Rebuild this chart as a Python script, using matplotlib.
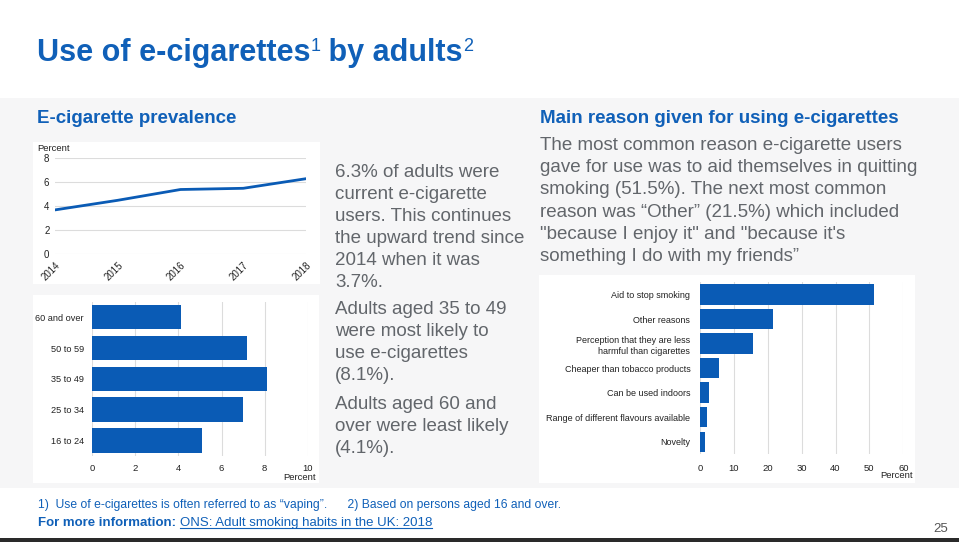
import matplotlib
matplotlib.use("Agg")
import matplotlib.pyplot as plt
from matplotlib.patches import Rectangle
from matplotlib.lines import Line2D

# data
years = [2014, 2015, 2016, 2017, 2018]
prevalence = [3.7, 4.5, 5.4, 5.5, 6.3]

age_groups = ['16 to 24', '25 to 34', '35 to 49', '50 to 59', '60 and over']
age_values = [5.1, 7.0, 8.1, 7.2, 4.1]

reasons = ['Aid to stop smoking', 'Other reasons',
           'Perception that they are less\nharmful than cigarettes',
           'Cheaper than tobacco products', 'Can be used indoors',
           'Range of different flavours available', 'Novelty']
reason_values = [51.5, 21.5, 15.7, 5.5, 2.6, 2.0, 1.6]

prev_text = ['6.3% of adults were', 'current e-cigarette', 'users. This continues',
             'the upward trend since', '2014 when it was', '3.7%.']
age_text1 = ['Adults aged 35 to 49', 'were most likely to', 'use e-cigarettes', '(8.1%).']
age_text2 = ['Adults aged 60 and', 'over were least likely', '(4.1%).']
reason_text = ['The most common reason e-cigarette users',
               'gave for use was to aid themselves in quitting',
               'smoking (51.5%). The next most common',
               'reason was \u201cOther\u201d (21.5%) which included',
               '"because I enjoy it" and "because it\'s',
               'something I do with my friends\u201d']

W, H = 959, 542
BLUE = '#0a5bb5'
TITLE_BLUE = '#1060b8'
GREY_TXT = '#62666b'
GRID = '#dcdcdc'
SANS = ['Liberation Sans', 'DejaVu Sans']

fig = plt.figure(figsize=(W / 100, H / 100), dpi=100)
fig.patch.set_facecolor('white')


def fx(x):
    return x / W


def fy(y):
    return 1 - y / H


def rect(x0, y0, x1, y1):
    return [x0 / W, 1 - y1 / H, (x1 - x0) / W, (y1 - y0) / H]


def box(x0, y0, x1, y1, color):
    fig.add_artist(Rectangle((x0 / W, 1 - y1 / H), (x1 - x0) / W, (y1 - y0) / H,
                             transform=fig.transFigure, facecolor=color,
                             edgecolor='none', zorder=-10))


# background band and white panels
box(0, 98, W, 488, '#f6f6f7')
box(33, 142, 320, 284, 'white')
box(33, 295, 319, 483, 'white')
box(539, 275, 915, 483, 'white')
box(0, 538, W, H, '#2a2a2a')

# title with superscripts
renderer = fig.canvas.get_renderer()


def chain(pieces, x, y):
    for txt, size, dy, kw in pieces:
        t = fig.text(fx(x), fy(y - dy), txt, fontsize=size, va='baseline', **kw)
        bb = t.get_window_extent(renderer)
        x += bb.width
    return x


tkw = dict(family=SANS, weight='bold', color=TITLE_BLUE)
chain([('Use of e-cigarettes', 22, 0, tkw), ('1', 13, 10, dict(tkw, weight='normal')),
       (' by adults', 22, 0, tkw), ('2', 13, 10, dict(tkw, weight='normal'))], 37, 61)

# section headings
fig.text(fx(37), fy(123.3), 'E-cigarette prevalence', fontsize=13.5, weight='bold',
         color=TITLE_BLUE, family=SANS, va='baseline')
fig.text(fx(540), fy(123.3), 'Main reason given for using e-cigarettes', fontsize=13.5,
         weight='bold', color=TITLE_BLUE, family=SANS, va='baseline')

# paragraph text
for lines, y0 in [(prev_text, 176.7), (age_text1, 314.3), (age_text2, 409.3)]:
    for i, line in enumerate(lines):
        fig.text(fx(335), fy(y0 + 22 * i), line, fontsize=13.5, color=GREY_TXT,
                 family=SANS, va='baseline')
for i, line in enumerate(reason_text):
    fig.text(fx(540), fy(150 + 22.2 * i), line, fontsize=13.5, color=GREY_TXT,
             family=SANS, va='baseline')

# line chart
ax1 = fig.add_axes(rect(55, 158.3, 306, 254.3))
ax1.set_facecolor('none')
ax1.plot(years, prevalence, color=BLUE, lw=2, solid_capstyle='round')
ax1.set_xlim(2014, 2018)
ax1.set_ylim(0, 8)
ax1.set_yticks([0, 2, 4, 6, 8])
ax1.set_xticks(years)
ax1.set_xticklabels([str(y) for y in years], rotation=45, ha='right',
                    rotation_mode='anchor')
ax1.yaxis.grid(True, color=GRID, lw=0.8)
ax1.set_axisbelow(True)
for s in ax1.spines.values():
    s.set_visible(False)
ax1.tick_params(length=0, labelsize=7, colors='#222222', pad=4)
for lab in ax1.get_yticklabels() + ax1.get_xticklabels():
    lab.set_family(SANS)
fig.text(fx(37), fy(151), 'Percent', fontsize=6.8, family=SANS, color='#222222',
         va='baseline')

# age bar chart
ax2 = fig.add_axes(rect(92.3, 301.8, 307.7, 455.9))
ax2.set_facecolor('none')
ax2.barh(range(len(age_groups)), age_values, height=0.79, color=BLUE)
ax2.set_xlim(0, 10)
ax2.set_ylim(-0.5, len(age_groups) - 0.5)
ax2.set_yticks(range(len(age_groups)))
ax2.set_yticklabels(age_groups)
ax2.set_xticks([0, 2, 4, 6, 8, 10])
ax2.xaxis.grid(True, color=GRID, lw=0.8)
ax2.set_axisbelow(True)
for s in ax2.spines.values():
    s.set_visible(False)
ax2.tick_params(length=0, labelsize=6.6, colors='#222222', pad=6)
ax2.tick_params(axis='x', labelsize=6.8)
for lab in ax2.get_xticklabels() + ax2.get_yticklabels():
    lab.set_family(SANS)
fig.text(fx(316), fy(480), 'Percent', fontsize=6.8, family=SANS, color='#222222',
         va='baseline', ha='right')

# reasons bar chart
ax3 = fig.add_axes(rect(700, 282.2, 903.3, 454))
ax3.set_facecolor('none')
pos = list(range(len(reasons)))[::-1]
ax3.barh(pos, reason_values, height=0.83, color=BLUE)
ax3.set_xlim(0, 60)
ax3.set_ylim(-0.5, len(reasons) - 0.5)
ax3.set_yticks(pos)
ax3.set_yticklabels(reasons, linespacing=1.3)
ax3.set_xticks([0, 10, 20, 30, 40, 50, 60])
ax3.xaxis.grid(True, color=GRID, lw=0.8)
ax3.set_axisbelow(True)
for s in ax3.spines.values():
    s.set_visible(False)
ax3.tick_params(axis='y', length=0, labelsize=6.5, colors='#222222', pad=7)
ax3.tick_params(axis='x', length=0, labelsize=6.8, colors='#222222', pad=7)
for lab in ax3.get_xticklabels() + ax3.get_yticklabels():
    lab.set_family(SANS)
fig.text(fx(913), fy(478), 'Percent', fontsize=6.8, family=SANS, color='#222222',
         va='baseline', ha='right')

# footer
fkw = dict(family=SANS, color=TITLE_BLUE)
fig.text(fx(38), fy(508), '1)  Use of e-cigarettes is often referred to as \u201cvaping\u201d.'
         '      2) Based on persons aged 16 and over.', fontsize=8.7, va='baseline', **fkw)
t = fig.text(fx(38), fy(526), 'For more information: ', fontsize=9.5, weight='bold',
             va='baseline', **fkw)
lx = 38 + t.get_window_extent(renderer).width
link = fig.text(fx(lx), fy(526), 'ONS: Adult smoking habits in the UK: 2018', fontsize=9.5,
                va='baseline', **fkw)
lw_px = link.get_window_extent(renderer).width
fig.add_artist(Line2D([fx(lx), fx(lx + lw_px)], [fy(528), fy(528)], color=TITLE_BLUE,
                      lw=0.8, transform=fig.transFigure))
fig.text(fx(948), fy(532), '25', fontsize=9.5, family=SANS, color='#555555',
         va='baseline', ha='right')

fig.savefig('out.png', dpi=100)
